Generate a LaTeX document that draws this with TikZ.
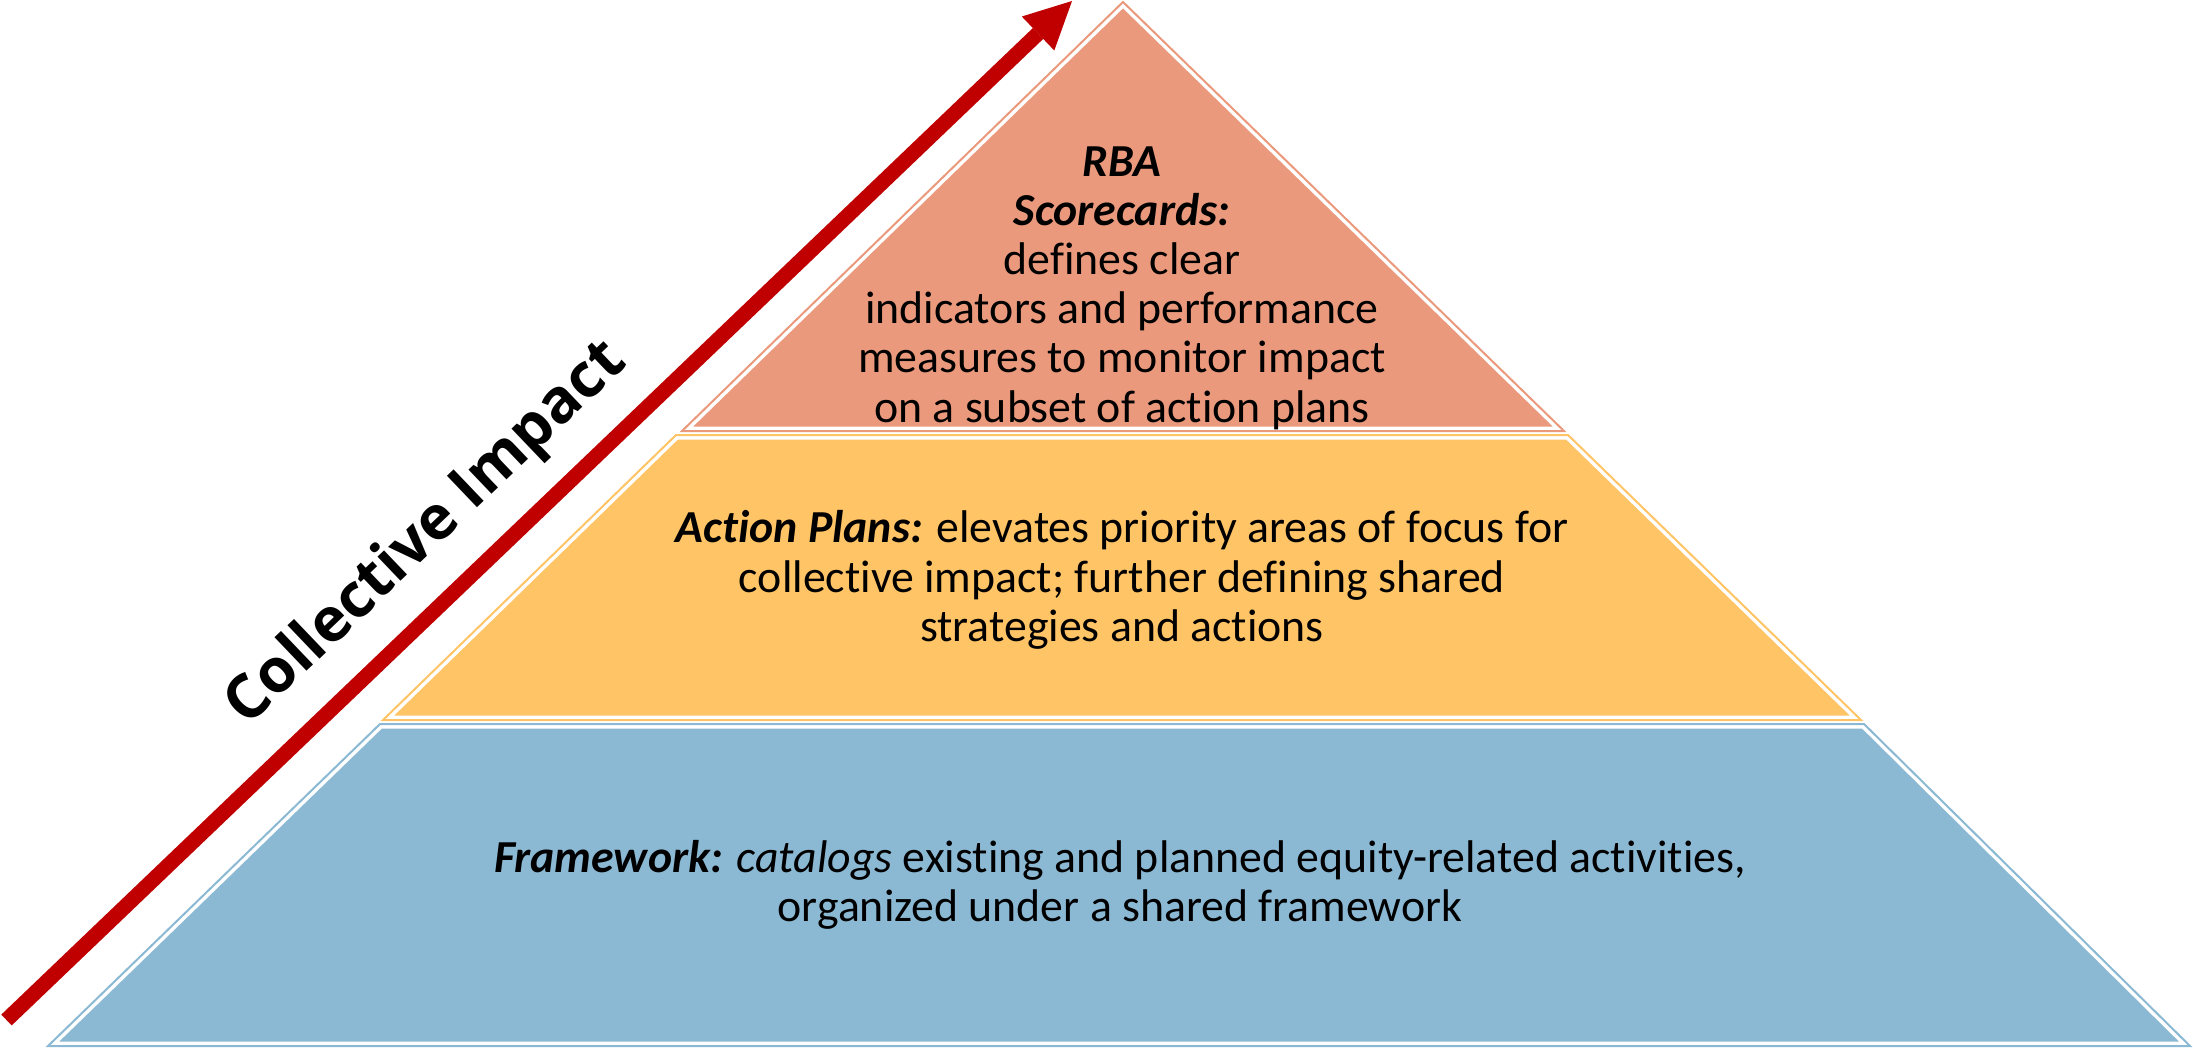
\documentclass[tikz,border=0pt]{standalone}
\usepackage{fontspec}
\setmainfont{Carlito}[Ligatures=NoCommon]
\newfontfamily\cifont{Open Sans}
\usetikzlibrary{arrows.meta}
\definecolor{salmon}{HTML}{EA997C}
\definecolor{gold}{HTML}{FFC466}
\definecolor{sky}{HTML}{8BB9D4}
\definecolor{arrowred}{HTML}{C00000}
\newcommand\pyrlayer[2]{%
  \begin{scope}
    \clip #2;
    \fill[#1] #2;
    \draw[white,line width=4.5pt] #2;
  \end{scope}
  \draw[#1,line width=1pt] #2;}
\begin{document}
\begin{tikzpicture}[x=0.5pt,y=-0.5pt,line join=miter,
  layertext/.style={align=center,font=\fontsize{22.9}{24.6}\selectfont,inner sep=0pt}]
\useasboundingbox (0,0) rectangle (2193,1048);
% pyramid corners
\coordinate (apex) at (1123,2);
\coordinate (tl) at (682,431);
\coordinate (tr) at (1564,431);
\coordinate (ml1) at (676,435);
\coordinate (mr1) at (1568,435);
\coordinate (ml2) at (383,720);
\coordinate (mr2) at (1861,720);
\coordinate (bl1) at (380,724);
\coordinate (br1) at (1864,724);
\coordinate (bl2) at (48,1046);
\coordinate (br2) at (2190,1046);
% layers
\pyrlayer{salmon}{(apex) -- (tr) -- (tl) -- cycle}
\pyrlayer{gold}{(ml1) -- (mr1) -- (mr2) -- (ml2) -- cycle}
\pyrlayer{sky}{(bl1) -- (br1) -- (br2) -- (bl2) -- cycle}
% arrow
\coordinate (atail) at (6.5,1020);
\coordinate (ahead) at (1072,1);
\draw[arrowred,line width=7.5pt,line cap=butt,
  -{Triangle[width=23.5pt,length=23.5pt,line width=0pt]}] (atail) -- (ahead);
\node[font=\cifont\bfseries\fontsize{30.5}{37}\selectfont,rotate=43.7,anchor=base,inner sep=0pt]
  (ci) at (438,546) {Collective Impact};
% texts
\node[layertext] (ttop) at (1122,288) {\textbf{\textit{RBA}}\\
  \textbf{\textit{Scorecards:}}\\
  defines clear\\
  indicators and performance\\
  measures to monitor impact\\
  on a subset of action plans};
\node[layertext] (tmid) at (1122,580) {\textbf{\textit{Action Plans:}} elevates priority areas of focus for\\
  collective impact; further defining shared\\
  strategies and actions};
\node[layertext] (tbot) at (1120,885) {\textbf{\textit{Framework:}} \textit{catalogs} existing and planned equity-related activities,\\
  organized under a shared framework};
\end{tikzpicture}
\end{document}
